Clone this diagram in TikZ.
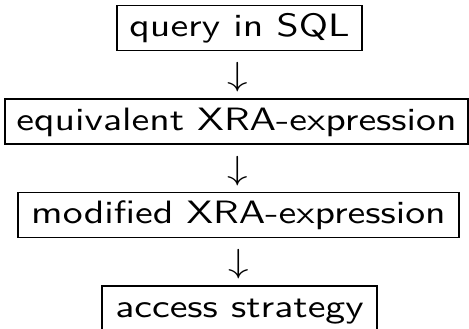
\documentclass[tikz,border=0pt]{standalone}
\usepackage{graphicx}
\usepackage{fontspec}
% wide sans face for the stage labels
\newfontfamily\stagefont{lmsans10-regular.otf}[FakeStretch=1.23]
\begin{document}
\begin{tikzpicture}[x=0.3pt,y=-0.3pt,
  stage/.style={draw, line width=0.4pt, inner sep=0pt, minimum height=45*0.3pt,
    font=\stagefont\fontsize{9.7}{11}\selectfont, text height=7.1pt, text depth=1.85pt},
  flow/.style={font=\fontsize{9.8}{12}\selectfont, inner sep=0pt, yshift=-0.75pt}]
  \useasboundingbox (0,0) rectangle (469,329);
  \node[stage, minimum width=245*0.3pt] (b1) at (239.5,28) {query in SQL};
  \node[stage, minimum width=463*0.3pt] (b2) at (236.5,121.5) {equivalent XRA-expression};
  \node[stage, minimum width=441*0.3pt] (b3) at (238.5,215) {modified XRA-expression};
  \node[stage, minimum width=275*0.3pt] (b4) at (239.5,308.5) {access strategy};
  \path (b1.south) -- node[flow] (a1) {\scalebox{1.23}[1]{$\downarrow$}} (b2.north);
  \path (b2.south) -- node[flow] (a2) {\scalebox{1.23}[1]{$\downarrow$}} (b3.north);
  \path (b3.south) -- node[flow] (a3) {\scalebox{1.23}[1]{$\downarrow$}} (b4.north);
\end{tikzpicture}
\end{document}
